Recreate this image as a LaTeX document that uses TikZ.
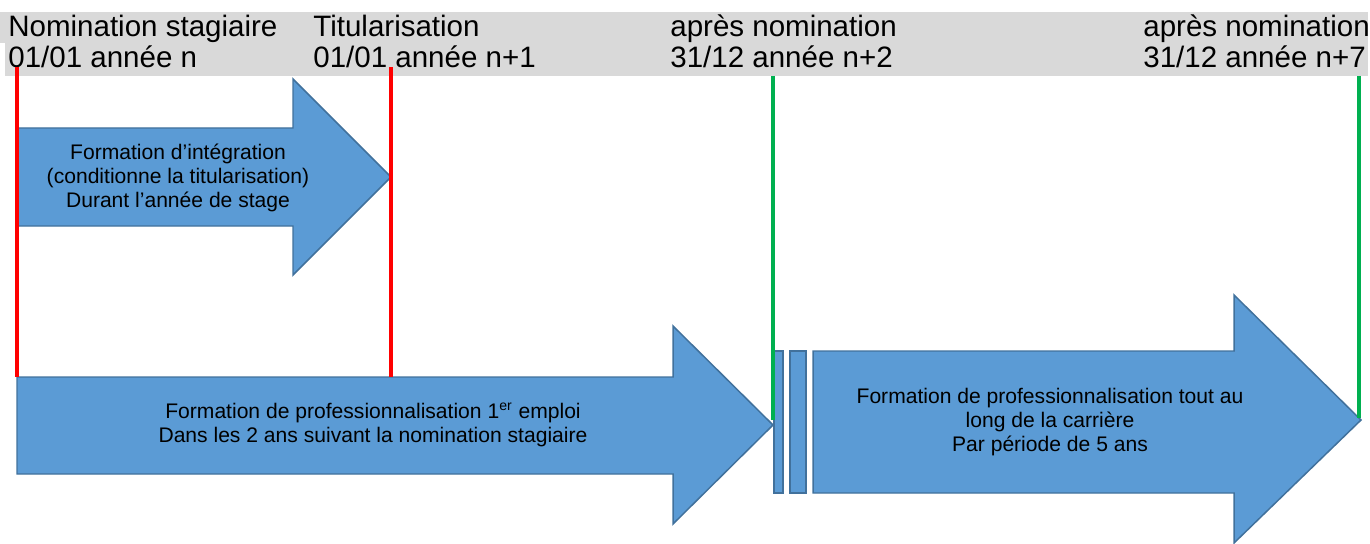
\documentclass[tikz,border=0pt]{standalone}
\usepackage{fontspec}
\setmainfont{Liberation Sans}
\usepackage{xcolor}
\usepackage{tikz}
\usetikzlibrary{positioning}

\definecolor{bandgray}{HTML}{D9D9D9}
\definecolor{arrowblue}{HTML}{5B9BD5}
\definecolor{arrowline}{HTML}{41719C}
\definecolor{markgreen}{HTML}{00B050}

\begin{document}
\begin{tikzpicture}[
    x=0.02cm, y=-0.02cm,
    hdr/.style={font=\fontsize{16.8}{18}\selectfont, anchor=base west, inner sep=0pt},
    arrowtext/.style={font=\fontsize{12}{13.7}\selectfont, align=center, inner sep=0pt},
    bigarrow/.style={fill=arrowblue, draw=arrowline, line width=0.85pt, line join=miter},
    redmark/.style={draw=red, line width=2.2pt},
    greenmark/.style={draw=markgreen, line width=2.2pt},
]
\useasboundingbox (0,0) rectangle (1370,544);

% bandeau des dates
\fill[bandgray] (0,12) rectangle (1368,43);
\fill[bandgray] (5,43) rectangle (1368,76);

\node[hdr] (hdrnom) at (8,37) {Nomination stagiaire};
\node[hdr] (hdrtit) at (313,37) {Titularisation};
\node[hdr] (hdrapres) at (670,37) {après nomination};
\node[hdr] (hdrapresb) at (1143,37) {après nomination};

\node[hdr] (datenom) at (8,68) {01/01 année n};
\node[hdr] (datetit) at (313,68) {01/01 année n+1};
\node[hdr] (datedeux) at (670,68) {31/12 année n+2};
\node[hdr] (datesept) at (1143,68) {31/12 année n+7};

% flèches
\draw[bigarrow] (17,128) -- (293,128) -- (293,79) -- (391,177) -- (293,275) -- (293,226) -- (17,226) -- cycle;
\draw[bigarrow] (17,377) -- (673,377) -- (673,326) -- (773,425) -- (673,524) -- (673,474) -- (17,474) -- cycle;
\draw[bigarrow] (774,351) rectangle (783,493);
\draw[bigarrow] (790,351) rectangle (806,493);
\draw[bigarrow] (813,351) -- (1234,351) -- (1234,295) -- (1361,420) -- (1234,543) -- (1234,493) -- (813,493) -- cycle;

\node[arrowtext] (integ) at (178,178) {Formation d’intégration\\(conditionne la titularisation)\\Durant l’année de stage};
\node[arrowtext] (premier) at (373,425) {Formation de professionnalisation 1\textsuperscript{er} emploi\\Dans les 2 ans suivant la nomination stagiaire};
\node[arrowtext] (carriere) at (1050,422) {Formation de professionnalisation tout au\\long de la carrière\\Par période de 5 ans};

% repères
\coordinate (rouge1h) at (17,67);
\coordinate (rouge1b) at (17,377);
\coordinate (rouge2h) at (391,67);
\coordinate (rouge2b) at (391,377);
\coordinate (vert1h) at (773,76);
\coordinate (vert1b) at (773,420);
\coordinate (vert2h) at (1359,76);
\coordinate (vert2b) at (1359,418);

\draw[redmark] (rouge1h) -- (rouge1b);
\draw[redmark] (rouge2h) -- (rouge2b);
\draw[greenmark] (vert1h) -- (vert1b);
\draw[greenmark] (vert2h) -- (vert2b);

\end{tikzpicture}
\end{document}
